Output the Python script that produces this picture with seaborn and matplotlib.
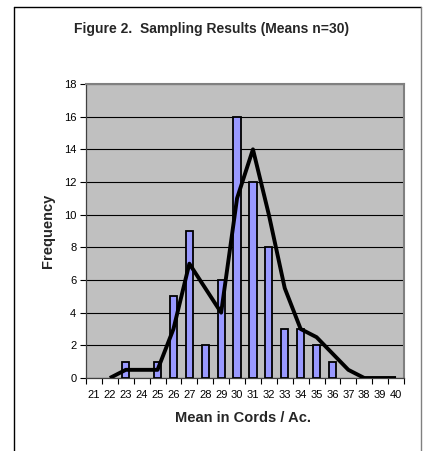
import matplotlib
matplotlib.use("Agg")
import matplotlib.pyplot as plt
from matplotlib.lines import Line2D
import seaborn as sns
import pandas as pd
import numpy as np

means = [21, 22, 23, 24, 25, 26, 27, 28, 29, 30, 31, 32, 33, 34, 35, 36, 37, 38, 39, 40]
freq = [0, 0, 1, 0, 1, 5, 9, 2, 6, 16, 12, 8, 3, 3, 2, 1, 0, 0, 0, 0]
# 2-period moving average as drawn (starts at 22)
ma_x = [22, 23, 24, 25, 26, 27, 28, 29, 30, 31, 32, 33, 34, 35, 36, 37, 38, 39, 40]
ma_y = [0, 0.5, 0.5, 0.5, 3, 7, 5.5, 4, 11, 14, 10, 5.5, 3, 2.5, 1.5, 0.5, 0, 0, 0]
yticks = [0, 2, 4, 6, 8, 10, 12, 14, 16, 18]

sns.set_theme(style="white")
plt.rcParams['font.family'] = ['Liberation Sans', 'DejaVu Sans']

W, H = 425, 451
fig = plt.figure(figsize=(W / 100, H / 100), dpi=100)
fig.patch.set_facecolor("white")

l, r, t, b = 86, 404, 84, 378
ax = fig.add_axes([l / W, 1 - b / H, (r - l) / W, (b - t) / H])
ax.set_facecolor("#C0C0C0")

df = pd.DataFrame({"mean": means, "freq": freq})
df_nz = df[df["freq"] > 0]
sns.barplot(data=df_nz, x="mean", y="freq", native_scale=True, width=0.45,
            color="#9999FF", saturation=1, edgecolor="black", linewidth=1.3, ax=ax, zorder=3)
for p in ax.patches:
    p.set_facecolor("#9999FF")
sns.lineplot(x=ma_x, y=ma_y, color="black", linewidth=2.8, ax=ax, zorder=4,
             solid_joinstyle="round", solid_capstyle="butt")

ax.set_xlim(means[0] - 0.5, means[-1] + 0.5)
ax.set_ylim(0, 18)
ax.set_yticks(yticks)
ax.set_yticklabels([str(v) for v in yticks], fontsize=8)
ax.set_xticks(means)
ax.set_xticklabels([str(v) for v in means], fontsize=8)
ax.set_xticks(np.arange(means[0] - 0.5, means[-1] + 1, 1), minor=True)
ax.tick_params(axis="x", which="major", length=0, pad=9, colors="black")
ax.tick_params(axis="x", which="minor", length=4, width=0.8, direction="out", color="black")
ax.tick_params(axis="y", which="major", length=4, width=0.8, direction="out", pad=3, color="black", labelcolor="black")
ax.xaxis.set_ticks_position("bottom")
ax.yaxis.set_ticks_position("left")
ax.grid(axis="y", color="black", linewidth=0.8, zorder=1)
ax.set_axisbelow(True)

for s in ["top", "right"]:
    ax.spines[s].set_color("#808080")
    ax.spines[s].set_linewidth(1.5)
for s in ["left", "bottom"]:
    ax.spines[s].set_color("#404040")
    ax.spines[s].set_linewidth(0.9)

ax.set_xlabel("")
ax.set_ylabel("")
fig.text(243 / W, 1 - 418 / H, "Mean in Cords / Ac.", ha="center", va="center",
         fontsize=10.5, fontweight="bold")
fig.text(48 / W, 1 - 231 / H, "Frequency", ha="center", va="center",
         rotation=90, fontsize=10.5, fontweight="bold")
fig.text(212 / W, 1 - 29 / H, "Figure 2.  Sampling Results (Means n=30)", ha="center",
         va="center", fontsize=10, fontweight="bold")

# outer frame
fig.add_artist(Line2D([14 / W, 14 / W], [1 - 7 / H, 0], color="black", linewidth=1.0))
fig.add_artist(Line2D([14 / W, 421 / W], [1 - 7 / H, 1 - 7 / H], color="black", linewidth=1.0))
fig.add_artist(Line2D([421 / W, 421 / W], [1 - 7 / H, 0], color="#808080", linewidth=1.0))

fig.savefig("out.png", dpi=100, facecolor="white")
